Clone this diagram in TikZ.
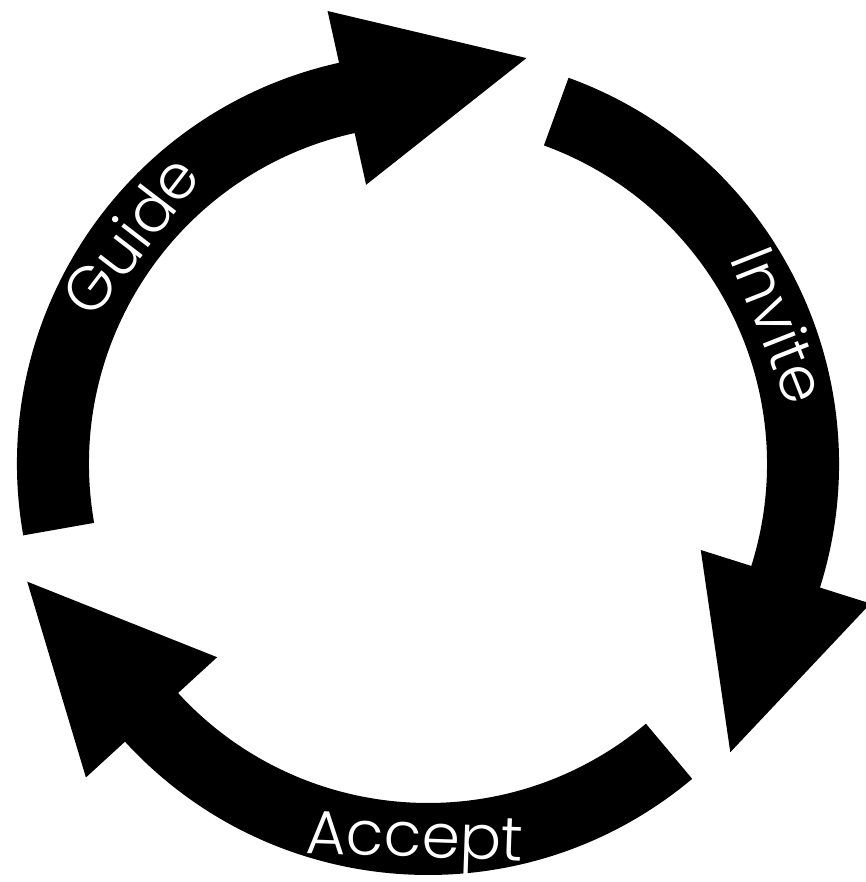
\documentclass[tikz,border=0pt]{standalone}
\usepackage{fontspec}
\setmainfont{Poppins}[UprightFont=* Light]
\usetikzlibrary{calc}

\tikzset{
  cyclelabel/.style={text=white, font=\fontsize{17.5}{17.5}\selectfont, inner sep=0pt}
}

\begin{document}
\begin{tikzpicture}
  \useasboundingbox (0,0) rectangle (8.66,8.82);
  \coordinate (c) at (4.28,4.18);

  % the three arrows, 120 degrees apart
  \foreach \s/\e in {190/102.5, 70/-17.5, -50/-137.5}{
    \fill[black] ($(c)+(\s:4.11)$) arc[start angle=\s, end angle=\e, radius=4.11]
      -- ($(c)+(\e:4.64)$) -- ($(c)+(\e:3.75)+(\e-90:1.84)$)
      -- ($(c)+(\e:2.86)$) -- ($(c)+(\e:3.39)$)
      arc[start angle=\e, end angle=\s, radius=3.39] -- cycle;
  }

  \node[cyclelabel, rotate=52.5] (guide) at ($(c)+(142.5:3.76)$) {Guide};
  \node[cyclelabel, rotate=-68.5] (invite) at ($(c)+(21.5:3.79)$) {Invite};
  \node[cyclelabel, rotate=-2] (accept) at ($(c)+(-92:3.8)$) {Accept};
\end{tikzpicture}
\end{document}
